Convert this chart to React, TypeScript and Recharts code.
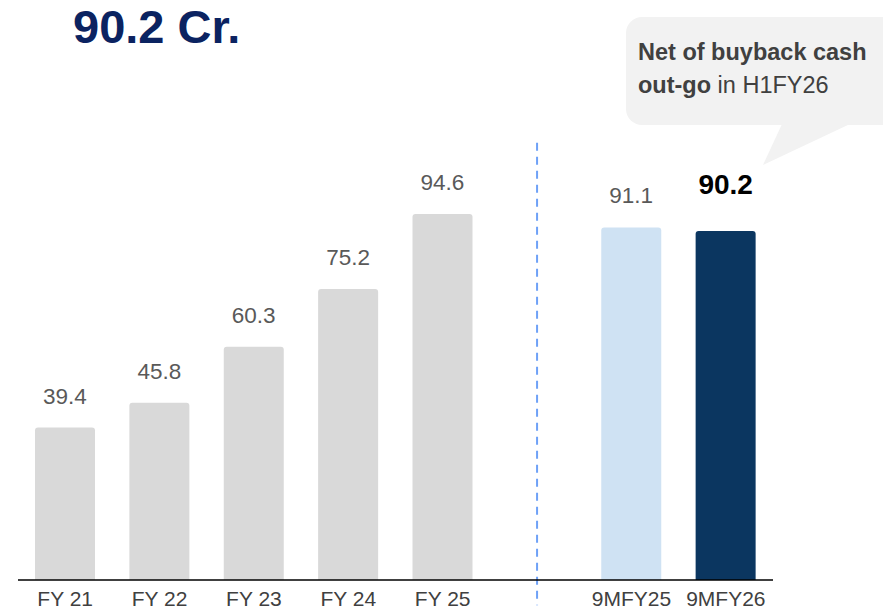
import React from "react";
import { BarChart, Bar, XAxis, YAxis, Cell, LabelList, ReferenceLine } from "recharts";

const categories = ["FY 21", "FY 22", "FY 23", "FY 24", "FY 25", " ", "9MFY25", "9MFY26"];
const values: (number | null)[] = [39.4, 45.8, 60.3, 75.2, 94.6, null, 91.1, 90.2];
const colors = ["#d9d9d9", "#d9d9d9", "#d9d9d9", "#d9d9d9", "#d9d9d9", "#ffffff", "#cfe2f3", "#0b3660"];

const data = categories.map((name, i) => ({ name, value: values[i], color: colors[i] }));

const FONT = "Liberation Sans, Arial, sans-serif";

const renderLabel = (props: any) => {
  const { x, y, width, value } = props;
  if (value == null) return null;
  const last = values.indexOf(value) === values.length - 1;
  return (
    <text
      x={Number(x) + Number(width) / 2}
      y={Number(y) - (last ? 37 : 24)}
      textAnchor="middle"
      fill={last ? "#000000" : "#595959"}
      fontSize={last ? 28 : 22.5}
      fontWeight={last ? 700 : 400}
      fontFamily={FONT}
    >
      {Number(value).toFixed(1)}
    </text>
  );
};

export default function App() {
  return (
    <div style={{ position: "absolute", left: 0, top: 0, width: 883, height: 613, background: "#fff", fontFamily: FONT }}>
      <svg width={883} height={613} style={{ position: "absolute", left: 0, top: 0 }}>
        <text x={73} y={43} fontSize={47} fontWeight={700} fill="#0b2361" fontFamily={FONT}>
          90.2 Cr.
        </text>
        <rect x={626} y={17} width={280} height={108} rx={16} fill="#f2f2f2" />
        <polygon points="782,124 850,124 763,165" fill="#f2f2f2" />
        <text x={638} y={60} fontSize={23.5} fill="#404040" fontFamily={FONT}>
          <tspan fontWeight={700}>Net of buyback cash</tspan>
        </text>
        <text x={638} y={93} fontSize={23.5} fill="#404040" fontFamily={FONT}>
          <tspan fontWeight={700}>out-go</tspan> in H1FY26
        </text>
      </svg>
      <div style={{ position: "absolute", left: 0, top: 0 }}>
        <BarChart width={883} height={613} data={data} margin={{ top: 193, right: 110, bottom: 3, left: 18 }} barSize={60}>
          <YAxis hide domain={[0, 100]} />
          <XAxis
            dataKey="name"
            axisLine={{ stroke: "#000", strokeWidth: 1.5 }}
            tickLine={false}
            tickMargin={5}
            height={30}
            interval={0}
            tick={{ fill: "#404040", fontSize: 21, fontFamily: FONT }}
          />
          <ReferenceLine
            segment={[{ x: " ", y: 113 }, { x: " ", y: -6.5 }]}
            ifOverflow="visible"
            stroke="#6ea1f7"
            strokeWidth={2}
            strokeDasharray="8 6"
          />
          <Bar dataKey="value" isAnimationActive={false} radius={[3, 3, 0, 0]}>
            {data.map((d) => (
              <Cell key={d.name} fill={d.color} />
            ))}
            <LabelList dataKey="value" content={renderLabel} />
          </Bar>
        </BarChart>
      </div>
    </div>
  );
}
